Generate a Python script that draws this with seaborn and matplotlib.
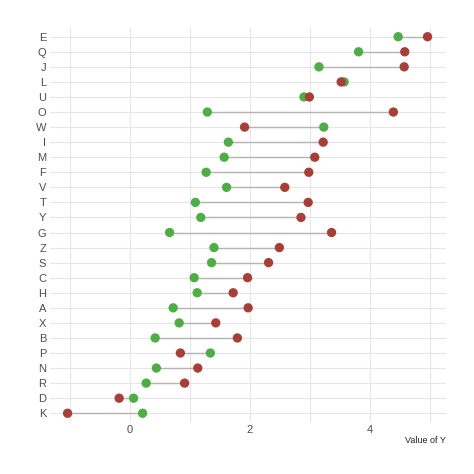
import matplotlib
matplotlib.use("Agg")
import matplotlib.pyplot as plt
import pandas as pd
import seaborn as sns

# ── Data ──────────────────────────────────────────────────────────────────────
categories = ["E", "Q", "J", "L", "U", "O", "W", "I", "M", "F", "V", "T", "Y",
              "G", "Z", "S", "C", "H", "A", "X", "B", "P", "N", "R", "D", "K"]
green_vals = [4.47, 3.81, 3.15, 3.57, 2.90, 1.29, 3.23, 1.64, 1.57, 1.27, 1.61, 1.09, 1.18,
              0.66, 1.40, 1.36, 1.07, 1.12, 0.72, 0.82, 0.42, 1.34, 0.44, 0.27, 0.06, 0.21]
red_vals = [4.96, 4.58, 4.57, 3.52, 2.99, 4.39, 1.91, 3.22, 3.08, 2.98, 2.58, 2.97, 2.85,
            3.36, 2.49, 2.31, 1.96, 1.72, 1.97, 1.43, 1.79, 0.84, 1.13, 0.91, -0.18, -1.04]
x_ticks = [0, 2, 4]

wide = pd.DataFrame({"cat": categories, "green": green_vals, "red": red_vals})
long = wide.melt(id_vars="cat", var_name="series", value_name="value")

GREEN = "#4DAF43"
RED = "#A83E35"
GRID = "#E6E6E6"

sns.set_theme(style="white")
plt.rcParams["font.family"] = ["Liberation Sans", "DejaVu Sans"]

fig = plt.figure(figsize=(4.74, 4.74), dpi=100)
ax = fig.add_axes([0.1046, 0.1091, 0.8354, 0.8325])

# segments
ax.hlines(wide["cat"], wide["green"], wide["red"], color="#B5B5B5", linewidth=1.0, zorder=2)

sns.scatterplot(data=long, x="value", y="cat", hue="series",
                palette={"green": GREEN, "red": RED}, s=45, linewidth=0,
                legend=False, ax=ax, zorder=3)

ax.set_xlim(-1.34, 5.26)
ax.set_ylim(len(categories) - 0.4, -0.6)
ax.set_xticks(x_ticks)
ax.set_xticks([-1, 1, 3, 5], minor=True)
ax.grid(True, which="both", axis="x", color=GRID, linewidth=0.8)
ax.grid(True, which="major", axis="y", color=GRID, linewidth=0.8)
ax.set_axisbelow(True)
for s in ax.spines.values():
    s.set_visible(False)

ax.tick_params(axis="both", which="both", length=0, labelsize=8, labelcolor="#4D4D4D")
ax.tick_params(axis="y", pad=2.5)
ax.tick_params(axis="x", pad=2)
ax.set_ylabel("")
ax.set_xlabel("Value of Y", fontsize=6.5, color="#222222", labelpad=6)
ax.xaxis.set_label_coords(1.0, -0.035)
ax.xaxis.label.set_horizontalalignment("right")

fig.savefig("out.png", dpi=100)
